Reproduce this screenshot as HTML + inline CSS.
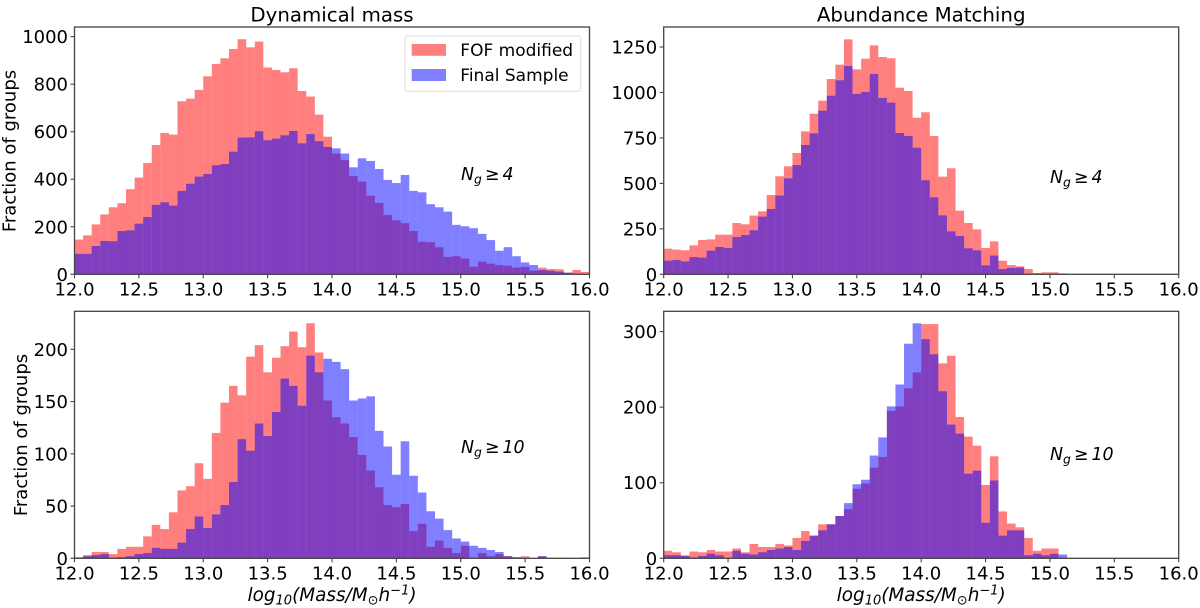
<!DOCTYPE html>
<html lang="en">
<head>
<meta charset="utf-8">
<title>Dynamical mass and abundance matching histograms</title>
<style>
html,body{margin:0;padding:0;background:#fff;width:1200px;height:608px;overflow:hidden}
svg{display:block}
text{font-family:"DejaVu Sans","Liberation Sans",sans-serif;fill:#000}
</style>
</head>
<body>
<svg id="chart" xmlns="http://www.w3.org/2000/svg" width="1200" height="608" viewBox="0 0 1200 608"></svg>
<script>
// Bin-count data, 60 bins from 12 to 16
const dynamicalRedNg4 = [146,164,210,252,282,299,358,407,468,544,595,588,728,739,776,833,885,909,948,989,955,979,870,860,850,867,771,748,672,579,508,480,414,390,331,300,250,227,215,182,137,135,114,73,76,66,32,53,45,39,36,28,31,15,28,22,21,7,18,10];
const dynamicalBlueNg4 = [86,86,119,140,139,182,185,213,241,292,303,289,351,381,411,422,459,464,516,575,576,602,564,571,585,603,551,590,560,536,530,508,450,488,477,443,397,384,418,351,345,295,282,264,208,202,194,170,144,99,114,76,50,39,18,15,11,7,3,1];
const abundanceRedNg4 = [141,136,132,159,189,192,218,218,282,275,323,346,436,539,594,667,786,883,955,1074,1153,1292,1127,1186,1259,1195,1188,1026,1008,861,891,761,537,583,350,282,247,145,181,75,51,44,29,7,11,11,0,0,0,0,0,0,0,0,0,0,0,0,0,0];
const abundanceBlueNg4 = [75,79,71,95,92,130,150,145,205,216,242,317,359,433,528,601,711,775,900,982,1067,1146,992,1003,1102,970,944,777,761,696,517,423,324,236,211,143,132,49,103,29,35,37,2,4,2,2,5,0,0,0,0,0,0,0,0,0,0,0,0,0];
const dynamicalRedNg10 = [1,3,6,6,4,9,11,11,21,32,28,44,65,69,91,76,120,149,165,156,193,204,178,192,203,217,202,225,197,151,135,129,116,99,84,68,51,49,52,26,33,11,17,10,5,12,0,5,2,4,2,1,2,0,2,0.5,0.5,0,0,1];
const dynamicalBlueNg10 = [0,2,3,4,0.5,1,2,4,5,10,9,9,15,28,40,29,42,51,73,114,103,129,117,140,172,165,146,194,178,191,188,181,151,153,155,122,107,80,112,79,63,45,38,27,19,16,12,10,8,6,2,1,0,0,2,0,0,0,0,0];
const abundanceRedNg10 = [10,8,4,9,8,11,9,9,13,8,19,15,15,19,17,27,36,30,45,45,56,65,92,99,120,134,195,201,225,246,310,310,258,268,187,161,149,97,135,62,46,41,27,10,13,13,0,0,0,0,0,0,0,0,0,0,0,0,0,0];
const abundanceBlueNg10 = [4,4,3,1,3,6,4,0,10,6,5,8,11,13,15,11,23,30,37,45,56,73,98,104,136,160,201,230,284,311,290,270,221,177,165,112,116,47,103,30,37,37,4,6,4,6,5,0,0,0,0,0,0,0,0,0,0,0,0,0];
const xTickValues = [12,12.5,13,13.5,14,14.5,15,15.5,16];
const xTickLabels = ["12.0","12.5","13.0","13.5","14.0","14.5","15.0","15.5","16.0"];
const yTicksDynamicalNg4 = [0,200,400,600,800,1000];
const yTicksAbundanceNg4 = [0,250,500,750,1000,1250];
const yTicksDynamicalNg10 = [0,50,100,150,200];
const yTicksAbundanceNg10 = [0,100,200,300];

const svgNS = "http://www.w3.org/2000/svg";
const chart = document.getElementById("chart");
const AXIS = "#444";
const TICK_FONT = 18;

function make(tag, attrs, parent, txt){
  const el = document.createElementNS(svgNS, tag);
  for (const k in attrs) el.setAttribute(k, attrs[k]);
  if (txt !== undefined) el.textContent = txt;
  (parent || chart).appendChild(el);
  return el;
}

function drawPanel(cfg){
  const xS = v => cfg.left + (v - 12) / 4 * (cfg.right - cfg.left);
  const yS = v => cfg.bottom - v / cfg.yMax * (cfg.bottom - cfg.top);
  const g = make("g", {}, chart);
  
  

  const bars = (vals, color, label) => {
    const sg = make("g", {fill: color}, g);
    
    
    vals.forEach((v, i) => {
      if (v <= 0) return;
      const x0 = xS(12 + i * 4 / vals.length), x1 = xS(12 + (i + 1) * 4 / vals.length);
      const r = make("rect", {x: x0, y: yS(v), width: x1 - x0, height: cfg.bottom - yS(v)}, sg);
      
      
    });
  };
  bars(cfg.red, "rgba(255,0,0,0.5)", "fof-modified");
  bars(cfg.blue, "rgba(0,0,255,0.5)", "final-sample");

  const frame = make("rect", {x: cfg.left, y: cfg.top, width: cfg.right - cfg.left, height: cfg.bottom - cfg.top, fill: "none", stroke: AXIS, "stroke-width": 1.3}, g);
  
  

  xTickValues.forEach((v, i) => {
    const t = make("line", {x1: xS(v), x2: xS(v), y1: cfg.bottom, y2: cfg.bottom + 4, stroke: AXIS, "stroke-width": 1.1}, g);
    
    
    const l = make("text", {x: xS(v), y: cfg.bottom + 21, "text-anchor": "middle", "font-size": TICK_FONT}, g, xTickLabels[i]);
    
    
  });
  cfg.yTicks.forEach(v => {
    const t = make("line", {x1: cfg.left - 4, x2: cfg.left, y1: yS(v), y2: yS(v), stroke: AXIS, "stroke-width": 1.1}, g);
    
    
    const l = make("text", {x: cfg.left - 6.5, y: yS(v) + 6.5, "text-anchor": "end", "font-size": TICK_FONT}, g, String(v));
    
    
  });

  const ann = make("text", {x: cfg.noteX, y: cfg.noteY, "font-size": 17.4, "font-style": "italic"}, g);
  
  
  make("tspan", {}, ann, "N");
  make("tspan", {dy: 3.5, "font-size": 12.4}, ann, "g");
  make("tspan", {dy: -3.5, dx: 3, "font-style": "normal"}, ann, "≥");
  make("tspan", {dx: 3}, ann, cfg.note);

  if (cfg.xlabel) {
    const xl = make("text", {x: (cfg.left + cfg.right) / 2, y: 601, "text-anchor": "middle", "font-size": 18.4, "font-style": "italic"}, g);
    
    
    make("tspan", {}, xl, "log");
    make("tspan", {dy: 3.5, "font-size": 13}, xl, "10");
    make("tspan", {dy: -3.5}, xl, "(Mass/M");
    make("tspan", {dy: 3.5, "font-size": 13, "font-style": "normal"}, xl, "⊙");
    make("tspan", {dy: -3.5}, xl, "h");
    make("tspan", {dy: -6.5, "font-size": 13}, xl, "−1");
    make("tspan", {dy: 6.5}, xl, ")");
  }
  if (cfg.ylabelX) {
    const yl = make("text", {transform: "translate(" + cfg.ylabelX + "," + cfg.ylabelY + ") rotate(-90)", "text-anchor": "middle", "font-size": 18}, g, "Fraction of groups");
    
    
  }
  if (cfg.title) {
    const ti = make("text", {x: (cfg.left + cfg.right) / 2, y: 21.5, "text-anchor": "middle", "font-size": 19.8}, g, cfg.title);
    
    
  }
}

drawPanel({name:"panel-dynamical-ng4", left:74.5, right:589.5, top:27, bottom:274.3, yMax:1040.5, red:dynamicalRedNg4, blue:dynamicalBlueNg4, yTicks:yTicksDynamicalNg4, note:"4", noteX:461, noteY:180, title:"Dynamical mass", ylabelX:15.5, ylabelY:151});
drawPanel({name:"panel-abundance-ng4", left:663.7, right:1178.7, top:27, bottom:274.3, yMax:1360, red:abundanceRedNg4, blue:abundanceBlueNg4, yTicks:yTicksAbundanceNg4, note:"4", noteX:1050, noteY:183, title:"Abundance Matching"});
drawPanel({name:"panel-dynamical-ng10", left:74.5, right:589.5, top:311.3, bottom:558.3, yMax:236.4, red:dynamicalRedNg10, blue:dynamicalBlueNg10, yTicks:yTicksDynamicalNg10, note:"10", noteX:461, noteY:453, xlabel:true, ylabelX:27, ylabelY:435});
drawPanel({name:"panel-abundance-ng10", left:663.7, right:1178.7, top:311.3, bottom:558.3, yMax:326.9, red:abundanceRedNg10, blue:abundanceBlueNg10, yTicks:yTicksAbundanceNg10, note:"10", noteX:1050, noteY:460, xlabel:true});

// Legend
const legend = make("g", {}, chart);


const legendBox = make("rect", {x: 405, y: 36, width: 175.7, height: 55.3, rx: 2.5, fill: "rgba(255,255,255,0.8)", stroke: "#dcdcdc", "stroke-width": 1}, legend);


const swatchRed = make("rect", {x: 411.7, y: 44, width: 34.3, height: 11.8, fill: "rgba(255,0,0,0.5)"}, legend);


const labelRed = make("text", {x: 460.3, y: 55.8, "font-size": 17}, legend, "FOF modified");


const swatchBlue = make("rect", {x: 411.7, y: 69, width: 34.3, height: 12, fill: "rgba(0,0,255,0.5)"}, legend);


const labelBlue = make("text", {x: 460.3, y: 81, "font-size": 17}, legend, "Final Sample");


</script>
</body>
</html>
